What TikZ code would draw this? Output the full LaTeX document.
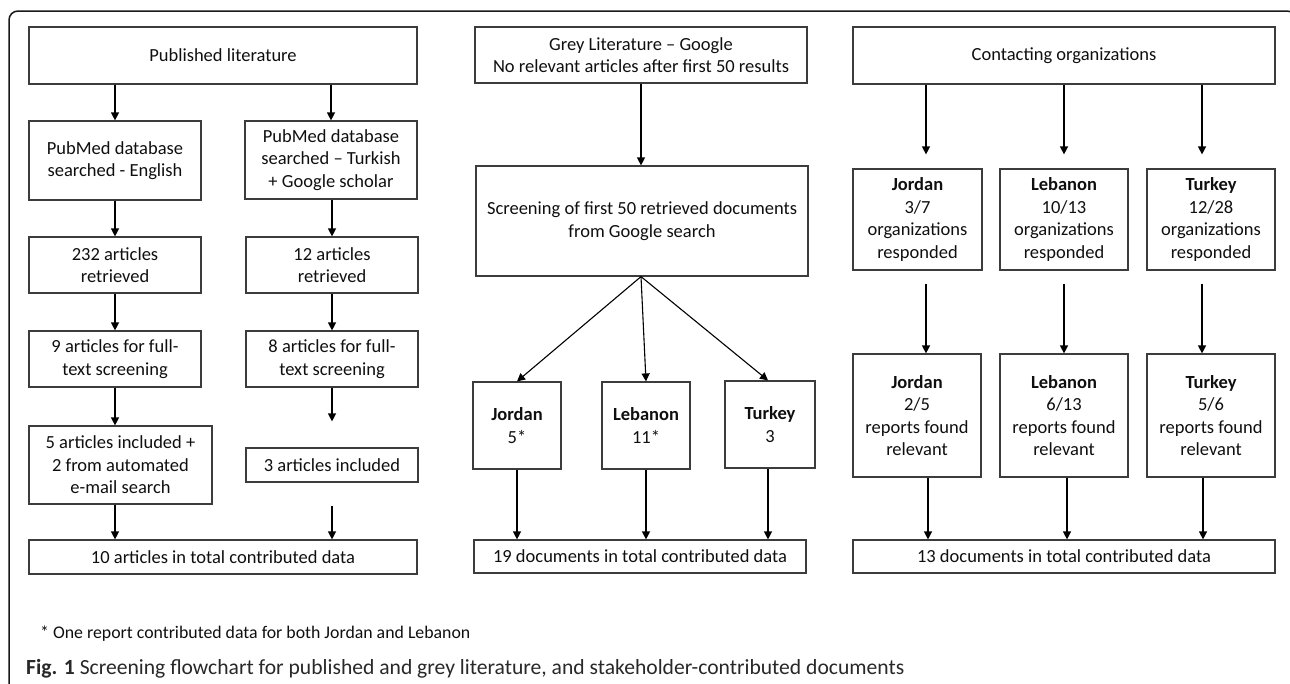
\documentclass[tikz,border=0pt]{standalone}
\usepackage{fontspec}
\setmainfont{Carlito}
\usetikzlibrary{arrows.meta,calc}
\definecolor{boxc}{RGB}{60,60,60}
\definecolor{txtc}{RGB}{15,15,15}
\definecolor{capc}{RGB}{40,40,40}
\begin{document}
\begin{tikzpicture}[x=1pt,y=-1pt,
  box/.style={draw=boxc, line width=1.2pt, inner sep=0pt, align=center, text=txtc,
              font=\fontsize{18.5}{22.5}\selectfont},
  arr/.style={draw=black, line width=1.3pt, -{Triangle[width=8pt,length=8pt]}},
  ln/.style={draw=black, line width=1.1pt}]
\useasboundingbox (0,0) rectangle (1290,683);
\begin{scope}
\clip (0,0) rectangle (1290,683);
\draw[line width=1.5pt, draw=black!90, rounded corners=9pt] (9,700) -- (9,11) -- (1296,11) -- (1296,700);
\end{scope}

% ---------- Published literature ----------
\node[box, minimum width=388pt, minimum height=57pt] (pub) at (223,55.5) {Published literature};
\node[box, minimum width=172pt, minimum height=79pt] (eng) at (115,160.5) {PubMed database\\searched - English};
\node[box, minimum width=172pt, minimum height=78pt] (tur) at (331,160) {PubMed database\\searched -- Turkish\\+ Google scholar};
\node[box, minimum width=172pt, minimum height=56pt] (r1) at (115,265) {232 articles\\retrieved};
\node[box, minimum width=172pt, minimum height=56pt] (r2) at (332,265) {12 articles\\retrieved};
\node[box, minimum width=172pt, minimum height=56pt] (f1) at (115,359) {9 articles for full-\\text screening};
\node[box, minimum width=172pt, minimum height=56pt] (f2) at (332,359) {8 articles for full-\\text screening};
\node[box, minimum width=183pt, minimum height=78pt] (inc1) at (120.5,465) {5 articles included +\\2 from automated\\e-mail search};
\node[box, minimum width=172pt, minimum height=34pt] (inc2) at (332,465) {3 articles included};
\node[box, minimum width=388pt, minimum height=34pt] (tot1) at (223,557) {10 articles in total contributed data};

\draw[arr] (pub.south -| eng) -- (eng.north);
\draw[arr] (pub.south -| tur) -- (tur.north);
\draw[arr] (eng.south) -- (r1.north);
\draw[arr] (tur.south -| r2) -- (r2.north);
\draw[arr] (r1.south) -- (f1.north);
\draw[arr] (r2.south) -- (f2.north);
\draw[arr] (f1.south) -- (inc1.north -| f1);
\draw[arr] (f2.south) -- ($(inc2.north)+(0,-26)$);
\draw[arr] (inc1.south -| eng) -- (tot1.north -| eng);
\draw[arr] ($(inc2.south)+(0,23)$) -- (tot1.north -| inc2);

% ---------- Grey literature ----------
\node[box, minimum width=332pt, minimum height=56pt] (grey) at (641,55) {Grey Literature -- Google\\No relevant articles after first 50 results};
\node[box, minimum width=332pt, minimum height=110pt] (scr) at (642,221) {Screening of first 50 retrieved documents\\from Google search};
\node[box, minimum width=88pt, minimum height=87pt] (gj) at (517,425.5) {\textbf{Jordan}\\5*};
\node[box, minimum width=88pt, minimum height=87pt] (gl) at (646,425.5) {\textbf{Lebanon}\\11*};
\node[box, minimum width=90pt, minimum height=87pt] (gt) at (770,424.5) {\textbf{Turkey}\\3};
\node[box, minimum width=332pt, minimum height=33pt] (tot2) at (640,556.5) {19 documents in total contributed data};

\draw[arr] (grey.south) -- (grey.south |- scr.north);
\coordinate (fan) at ($(scr.south)+(-1,0)$);
\draw[ln, -{Triangle[width=8pt,length=8pt]}] (fan) -- (gj.north);
\draw[ln, -{Triangle[width=8pt,length=8pt]}] (fan) -- (gl.north);
\draw[ln, -{Triangle[width=8pt,length=8pt]}] (fan) -- ($(gt.north)+(-2,0)$);
\draw[arr] (gj.south) -- (tot2.north -| gj);
\draw[arr] (gl.south) -- (tot2.north -| gl);
\draw[arr] ($(gt.south)+(-2,0)$) -- ($(tot2.north -| gt)+(-2,0)$);

% ---------- Contacting organizations ----------
\node[box, minimum width=422pt, minimum height=57pt] (cont) at (1064,55.5) {Contacting organizations};
\node[box, minimum width=129pt, minimum height=101pt] (cj1) at (917.5,219.5) {\textbf{Jordan}\\3/7\\organizations\\responded};
\node[box, minimum width=128pt, minimum height=101pt] (cl1) at (1064,219.5) {\textbf{Lebanon}\\10/13\\organizations\\responded};
\node[box, minimum width=128pt, minimum height=101pt] (ct1) at (1211,219.5) {\textbf{Turkey}\\12/28\\organizations\\responded};
\node[box, minimum width=128pt, minimum height=123pt] (cj2) at (917,415.5) {\textbf{Jordan}\\2/5\\reports found\\relevant};
\node[box, minimum width=128pt, minimum height=123pt] (cl2) at (1064,415.5) {\textbf{Lebanon}\\6/13\\reports found\\relevant};
\node[box, minimum width=128pt, minimum height=123pt] (ct2) at (1211,415.5) {\textbf{Turkey}\\5/6\\reports found\\relevant};
\node[box, minimum width=422pt, minimum height=33pt] (tot3) at (1064,556.5) {13 documents in total contributed data};

\coordinate (c1) at (926,0);
\coordinate (c2) at (1064,0);
\coordinate (c3) at (1202,0);
\coordinate (d1) at (928,0);
\coordinate (d2) at (1067,0);
\coordinate (d3) at (1203,0);
\foreach \c/\a/\b in {c1/cj1/cj2, c2/cl1/cl2, c3/ct1/ct2}{
  \draw[arr] (cont.south -| \c) -- ($(\a.north -| \c)+(0,-14)$);
  \draw[arr] ($(\a.south -| \c)+(0,13)$) -- (\b.north -| \c);
}
\foreach \d/\b in {d1/cj2, d2/cl2, d3/ct2}{
  \draw[arr] (\b.south -| \d) -- (tot3.north -| \d);
}

% ---------- Footnote and caption ----------
\node[anchor=west, inner sep=0pt, text=txtc, font=\fontsize{17.8}{20}\selectfont] (note) at (40,634) {* One report contributed data for both Jordan and Lebanon};
\node[anchor=base west, inner sep=0pt, text=capc, font=\fontsize{21.6}{25}\selectfont] (cap) at (26,674) {\textbf{Fig. 1} Screening flowchart for published and grey literature, and stakeholder-contributed documents};
\end{tikzpicture}
\end{document}
